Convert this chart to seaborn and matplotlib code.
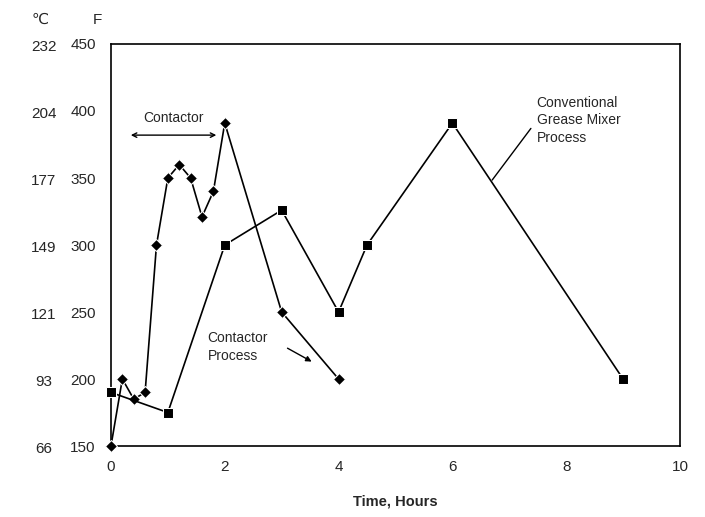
import pandas as pd
import numpy as np
import matplotlib

matplotlib.use("Agg")
import matplotlib.pyplot as plt
import matplotlib.transforms as mtransforms
import seaborn as sns

sns.set_style("white")
plt.rcParams["font.family"] = ["Liberation Sans", "DejaVu Sans"]

# data
contactor_hours = [0, 0.2, 0.4, 0.6, 0.8, 1.0, 1.2, 1.4, 1.6, 1.8, 2.0, 3.0, 4.0]
contactor_temp_f = [150, 200, 185, 190, 300, 350, 360, 350, 321, 340, 391, 250, 200]

mixer_hours = [0, 1.0, 2.0, 3.0, 4.0, 4.5, 6.0, 9.0]
mixer_temp_f = [190, 175, 300, 326, 250, 300, 391, 200]

f_ticks = [150, 200, 250, 300, 350, 400, 450]
c_labels = ["66", "93", "121", "149", "177", "204", "232"]
x_ticks = [0, 2, 4, 6, 8, 10]

contactor = pd.DataFrame({"hours": contactor_hours, "temp": contactor_temp_f})
mixer = pd.DataFrame({"hours": mixer_hours, "temp": mixer_temp_f})

fig = plt.figure(figsize=(7.05, 5.17), dpi=100)
ax = fig.add_axes([0.1574, 0.1373, 0.8071, 0.7776])

sns.lineplot(data=contactor, x="hours", y="temp", ax=ax, color="black",
             marker="D", markersize=6, linewidth=1.2, estimator=None, sort=False)
sns.lineplot(data=mixer, x="hours", y="temp", ax=ax, color="black",
             marker="s", markersize=7, linewidth=1.2, estimator=None, sort=False)
for line in ax.lines:
    line.set_clip_on(False)
    line.set_zorder(3)

ax.set_xlim(0, 10)
ax.set_ylim(150, 450)
ax.set_xticks(x_ticks)
ax.set_yticks(f_ticks)
ax.tick_params(axis="x", direction="in", length=3, labelsize=11, pad=10)
ax.tick_params(axis="y", length=0, labelsize=11, pad=11)
for s in ax.spines.values():
    s.set_color("black")
    s.set_linewidth(1.2)

ax.set_xlabel("Time, Hours", fontsize=10.5, fontweight="bold", labelpad=15)
ax.set_ylabel("")

# Celsius column to the left of the Fahrenheit ticks
trans = mtransforms.blended_transform_factory(ax.transAxes, ax.transData)
for f, c in zip(f_ticks, c_labels):
    ax.text(-0.118, f - 2, c, transform=trans, ha="center", va="center",
            fontsize=11)
fig.text(0.057, 0.962, "\u2103", ha="center", va="center", fontsize=11)
fig.text(0.138, 0.962, "F", ha="center", va="center", fontsize=11)

# annotations
ax.text(1.1, 395, "Contactor", ha="center", va="center", fontsize=10)
ax.annotate("", xy=(0.3, 382), xytext=(1.9, 382),
            arrowprops=dict(arrowstyle="<->", color="black", lw=1,
                            mutation_scale=8))
ax.text(1.7, 224, "Contactor\nProcess", ha="left", va="center", fontsize=10,
        linespacing=1.35)
ax.annotate("", xy=(3.57, 212), xytext=(3.06, 224),
            arrowprops=dict(arrowstyle="-|>", color="black", lw=1,
                            mutation_scale=8))
ax.text(7.48, 393, "Conventional\nGrease Mixer\nProcess", ha="left",
        va="center", fontsize=10, linespacing=1.35)
ax.plot([7.38, 6.7], [387, 348.5], color="black", lw=1)

plt.savefig("out.png", dpi=100)
